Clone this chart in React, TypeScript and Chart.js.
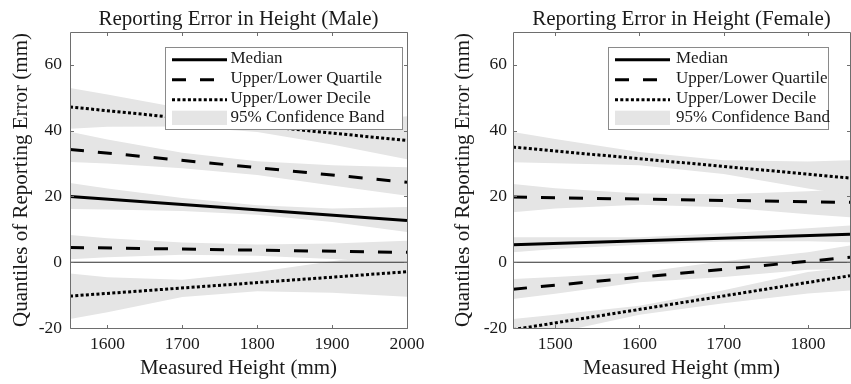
import React, { useEffect, useRef } from "react";
import { Chart, registerables } from "chart.js";

Chart.register(...registerables);

const SERIF = '"Liberation Serif", "Times New Roman", serif';
const INK = "#1a1a1a";
const AXIS = "#6e6e6e";
const BAND = "#e5e5e5";

// Shared error axis (mm)
const errorRange = [-20, 70];
const errorTicks = [-20, 0, 20, 40, 60];
const zeroLine = [0, 0];

const legendLabels = ["Median", "Upper/Lower Quartile", "Upper/Lower Decile", "95% Confidence Band"];

// ---- Male: fitted quantile lines at the ends of the height range ----
const maleHeightRange = [1550, 2000];
const maleHeightTicks = [1600, 1700, 1800, 1900, 2000];
const maleMedian = [20.0, 12.7];
const maleUpperQuartile = [34.3, 24.3];
const maleLowerQuartile = [4.5, 3.0];
const maleUpperDecile = [47.2, 37.0];
const maleLowerDecile = [-10.3, -2.9];

// Male 95% confidence bands (upper / lower edge)
const maleBandHeights = [1550, 1600, 1700, 1800, 1900, 2000];
const maleMedianHi = [24.1, 22.4, 19.5, 17.3, 16.3, 16.8];
const maleMedianLo = [16.2, 16.0, 15.6, 14.4, 12.2, 9.2];
const maleUpperQuartileHi = [39.7, 37.3, 33.3, 30.7, 29.5, 28.9];
const maleUpperQuartileLo = [30.5, 30.0, 28.6, 26.5, 23.3, 20.2];
const maleLowerQuartileHi = [8.3, 7.3, 6.0, 5.4, 5.7, 6.5];
const maleLowerQuartileLo = [0.9, 1.5, 2.3, 2.0, 1.0, 0.0];
const maleUpperDecileHi = [53.0, 51.0, 46.8, 43.0, 42.2, 44.4];
const maleUpperDecileLo = [40.6, 41.2, 41.3, 39.6, 35.8, 31.3];
const maleLowerDecileHi = [-3.4, -4.6, -5.3, -3.0, 0.3, 3.5];
const maleLowerDecileLo = [-17.3, -15.2, -10.6, -8.8, -9.3, -10.5];

// ---- Female ----
const femaleHeightRange = [1450, 1850];
const femaleHeightTicks = [1500, 1600, 1700, 1800];
const femaleMedian = [5.3, 8.5];
const femaleUpperQuartile = [19.8, 18.2];
const femaleLowerQuartile = [-8.2, 1.5];
const femaleUpperDecile = [35.0, 25.6];
const femaleLowerDecile = [-20.5, -4.1];

const femaleBandHeights = [1450, 1500, 1600, 1700, 1800, 1850];
const femaleMedianHi = [7.6, 7.6, 7.6, 8.8, 10.3, 11.2];
const femaleMedianLo = [3.0, 4.0, 5.3, 6.3, 6.4, 6.1];
const femaleUpperQuartileHi = [23.8, 22.5, 20.9, 20.7, 21.6, 22.3];
const femaleUpperQuartileLo = [15.2, 16.3, 17.5, 16.7, 14.6, 13.7];
const femaleLowerQuartileHi = [-5.1, -4.5, -3.1, 0.3, 3.0, 5.1];
const femaleLowerQuartileLo = [-11.2, -9.6, -6.1, -4.5, -2.3, -2.1];
const femaleUpperDecileHi = [39.6, 37.5, 33.5, 31.0, 30.6, 31.0];
const femaleUpperDecileLo = [30.4, 30.1, 29.5, 26.8, 22.4, 20.5];
const femaleLowerDecileHi = [-17.3, -16.0, -13.2, -8.5, -3.0, -1.5];
const femaleLowerDecileLo = [-24.0, -21.5, -16.0, -12.5, -9.5, -8.6];

const SOLID: number[] = [];
const DASHED = [14, 14];
const DOTTED = [3, 2.3];

type Panel = {
  title: string;
  width: number;
  left: number;
  axisWidth: number;
  padRight: number;
  yTickPad: number;
  yTitlePad: number;
  legend: { x: number; y: number; w: number; h: number; sample: number; text: number };
  heightRange: number[];
  heightTicks: number[];
  median: number[];
  upperQuartile: number[];
  lowerQuartile: number[];
  upperDecile: number[];
  lowerDecile: number[];
  bandHeights: number[];
  bands: number[][][];
};

const panels: Panel[] = [
  {
    title: "Reporting Error in Height (Male)",
    width: 425,
    left: 0,
    axisWidth: 70,
    padRight: 18,
    yTickPad: 8,
    yTitlePad: 8.7,
    legend: { x: 165, y: 46.7, w: 238, h: 83.3, sample: 172, text: 230.5 },
    heightRange: maleHeightRange,
    heightTicks: maleHeightTicks,
    median: maleMedian,
    upperQuartile: maleUpperQuartile,
    lowerQuartile: maleLowerQuartile,
    upperDecile: maleUpperDecile,
    lowerDecile: maleLowerDecile,
    bandHeights: maleBandHeights,
    bands: [
      [maleUpperDecileHi, maleUpperDecileLo],
      [maleUpperQuartileHi, maleUpperQuartileLo],
      [maleMedianHi, maleMedianLo],
      [maleLowerQuartileHi, maleLowerQuartileLo],
      [maleLowerDecileHi, maleLowerDecileLo],
    ],
  },
  {
    title: "Reporting Error in Height (Female)",
    width: 426,
    left: 425,
    axisWidth: 88,
    padRight: 1,
    yTickPad: 6,
    yTitlePad: 26,
    legend: { x: 183.3, y: 46.7, w: 221, h: 83.3, sample: 190, text: 251 },
    heightRange: femaleHeightRange,
    heightTicks: femaleHeightTicks,
    median: femaleMedian,
    upperQuartile: femaleUpperQuartile,
    lowerQuartile: femaleLowerQuartile,
    upperDecile: femaleUpperDecile,
    lowerDecile: femaleLowerDecile,
    bandHeights: femaleBandHeights,
    bands: [
      [femaleUpperDecileHi, femaleUpperDecileLo],
      [femaleUpperQuartileHi, femaleUpperQuartileLo],
      [femaleMedianHi, femaleMedianLo],
      [femaleLowerQuartileHi, femaleLowerQuartileLo],
      [femaleLowerDecileHi, femaleLowerDecileLo],
    ],
  },
];

const pts = (xs: number[], ys: number[]) => ys.map((y, i) => ({ x: xs[i], y }));

function buildDatasets(p: Panel) {
  const sets: any[] = [];
  for (const [hi, lo] of p.bands) {
    sets.push({
      data: pts(p.bandHeights, hi),
      borderColor: "rgba(0,0,0,0)",
      borderWidth: 0,
      backgroundColor: BAND,
      fill: "+1",
      pointRadius: 0,
      order: 3,
    });
    sets.push({
      data: pts(p.bandHeights, lo),
      borderColor: "rgba(0,0,0,0)",
      borderWidth: 0,
      fill: false,
      pointRadius: 0,
      order: 3,
    });
  }
  sets.push({
    data: pts(p.heightRange, zeroLine),
    borderColor: "#2e2e2e",
    borderWidth: 1.1,
    pointRadius: 0,
    fill: false,
    order: 2,
    clip: 0,
  });
  const line = (ys: number[], dash: number[]) => ({
    data: pts(p.heightRange, ys),
    borderColor: "#000",
    borderWidth: 3,
    borderDash: dash,
    borderCapStyle: "butt",
    pointRadius: 0,
    fill: false,
    order: 1,
    clip: 0,
  });
  sets.push(line(p.median, SOLID));
  sets.push(line(p.upperQuartile, DASHED));
  sets.push(line(p.lowerQuartile, DASHED));
  sets.push(line(p.upperDecile, DOTTED));
  sets.push(line(p.lowerDecile, DOTTED));
  return sets;
}

function makePlugins(p: Panel) {
  const heading = {
    id: "heading",
    afterDraw(chart: any) {
      const { ctx, chartArea: a } = chart;
      ctx.save();
      ctx.font = `21px ${SERIF}`;
      ctx.fillStyle = INK;
      ctx.textAlign = "center";
      ctx.textBaseline = "alphabetic";
      ctx.fillText(p.title, (a.left + a.right) / 2, 25);
      ctx.restore();
    },
  };

  const legendBox = {
    id: "legendBox",
    afterDatasetsDraw(chart: any) {
      const { ctx } = chart;
      const L = p.legend;
      ctx.save();
      ctx.fillStyle = "#fff";
      ctx.fillRect(L.x, L.y, L.w, L.h);
      ctx.strokeStyle = "#8a8a8a";
      ctx.lineWidth = 1;
      ctx.strokeRect(Math.round(L.x) + 0.5, Math.round(L.y) + 0.5, Math.round(L.w) - 1, Math.round(L.h) - 1);
      const rows = [12, 32, 52, 71];
      const dashes = [SOLID, DASHED, DOTTED];
      const x0 = L.sample;
      const x1 = L.sample + 55;
      ctx.strokeStyle = "#000";
      ctx.lineWidth = 3;
      ctx.lineCap = "butt";
      for (let i = 0; i < 3; i++) {
        const y = L.y + rows[i] + 1;
        ctx.setLineDash(dashes[i]);
        ctx.beginPath();
        ctx.moveTo(x0, y);
        ctx.lineTo(x1, y);
        ctx.stroke();
      }
      ctx.setLineDash([]);
      ctx.fillStyle = BAND;
      ctx.fillRect(x0, L.y + 64, 55, 14.3);
      ctx.font = `17px ${SERIF}`;
      ctx.fillStyle = INK;
      ctx.textAlign = "left";
      ctx.textBaseline = "middle";
      legendLabels.forEach((t, i) => ctx.fillText(t, L.text, L.y + rows[i]));
      ctx.restore();
    },
  };

  const frame = {
    id: "frame",
    afterDraw(chart: any) {
      const { ctx, chartArea: a, scales } = chart;
      const l = Math.round(a.left) + 0.5;
      const r = Math.round(a.right) + 0.5;
      const t = Math.round(a.top) + 0.5;
      const b = Math.round(a.bottom) + 0.5;
      const len = 3.5;
      ctx.save();
      ctx.strokeStyle = AXIS;
      ctx.lineWidth = 1;
      ctx.beginPath();
      ctx.rect(l, t, r - l, b - t);
      for (const tk of scales.x.ticks) {
        const x = Math.round(scales.x.getPixelForValue(tk.value)) + 0.5;
        ctx.moveTo(x, b);
        ctx.lineTo(x, b - len);
        ctx.moveTo(x, t);
        ctx.lineTo(x, t + len);
      }
      for (const tk of scales.y.ticks) {
        const y = Math.round(scales.y.getPixelForValue(tk.value)) + 0.5;
        ctx.moveTo(l, y);
        ctx.lineTo(l + len, y);
        ctx.moveTo(r, y);
        ctx.lineTo(r - len, y);
      }
      ctx.stroke();
      ctx.restore();
    },
  };

  return [heading, legendBox, frame];
}

function QuantilePanel({ p }: { p: Panel }) {
  const ref = useRef<HTMLCanvasElement | null>(null);

  useEffect(() => {
    if (!ref.current) return;
    const tickFont = { family: SERIF, size: 17.5 };
    const titleFont = { family: SERIF, size: 21 };
    const chart = new Chart(ref.current, {
      type: "line",
      data: { datasets: buildDatasets(p) },
      plugins: makePlugins(p),
      options: {
        responsive: false,
        animation: false,
        events: [],
        layout: { padding: { top: 32, right: p.padRight, bottom: 0, left: 0 } },
        plugins: {
          legend: { display: false },
          tooltip: { enabled: false },
          title: { display: false },
        },
        scales: {
          x: {
            type: "linear",
            min: p.heightRange[0],
            max: p.heightRange[1],
            afterBuildTicks: (s: any) => {
              s.ticks = p.heightTicks.map((v) => ({ value: v }));
            },
            afterFit: (s: any) => {
              s.height = 56;
              s.paddingLeft = 0;
              s.paddingRight = 0;
            },
            grid: { display: false, drawTicks: false },
            border: { display: false },
            ticks: {
              padding: 6,
              color: INK,
              font: tickFont,
              maxRotation: 0,
              autoSkip: false,
              callback: (v: any) => String(v),
            },
            title: {
              display: true,
              text: "Measured Height (mm)",
              color: INK,
              font: titleFont,
              padding: { top: 0, bottom: 3.4 },
            },
          },
          y: {
            type: "linear",
            min: errorRange[0],
            max: errorRange[1],
            afterBuildTicks: (s: any) => {
              s.ticks = errorTicks.map((v) => ({ value: v }));
            },
            afterFit: (s: any) => {
              s.width = p.axisWidth;
              s.paddingTop = 0;
              s.paddingBottom = 0;
            },
            grid: { display: false, drawTicks: false },
            border: { display: false },
            ticks: {
              padding: p.yTickPad,
              color: INK,
              font: tickFont,
              autoSkip: false,
              callback: (v: any) => String(v),
            },
            title: {
              display: true,
              text: "Quantiles of Reporting Error (mm)",
              color: INK,
              font: titleFont,
              padding: { top: p.yTitlePad, bottom: 0 },
            },
          },
        },
      } as any,
    });
    return () => chart.destroy();
  }, [p]);

  return (
    <canvas
      ref={ref}
      width={p.width}
      height={384}
      style={{ position: "absolute", left: p.left, top: 0, width: p.width, height: 384 }}
    />
  );
}

export default function App() {
  return (
    <div style={{ position: "absolute", left: 0, top: 0, width: 851, height: 384, background: "#fff" }}>
      {panels.map((p) => (
        <QuantilePanel key={p.title} p={p} />
      ))}
    </div>
  );
}
